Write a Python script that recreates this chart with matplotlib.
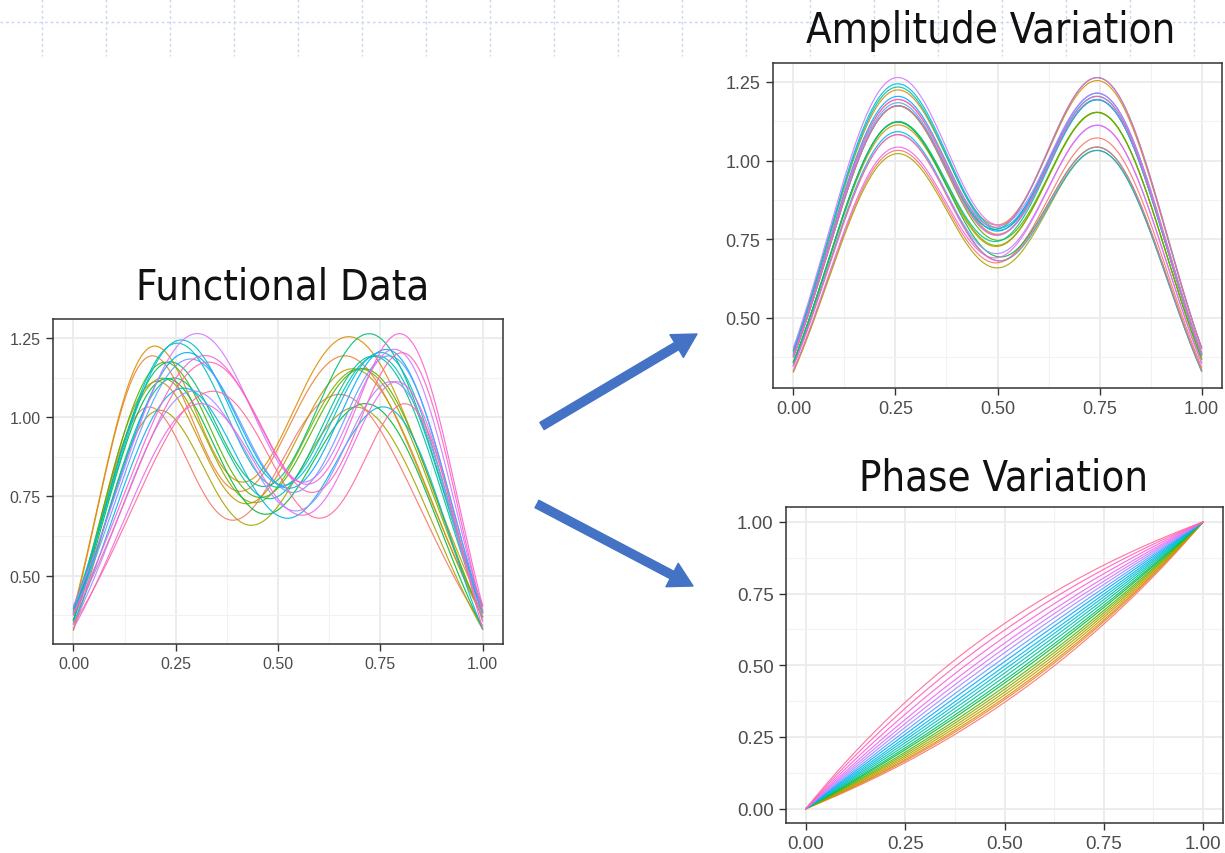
import numpy as np
import matplotlib
matplotlib.use("Agg")
import matplotlib.pyplot as plt
from matplotlib.lines import Line2D
from matplotlib.patches import FancyArrowPatch

# amplitudes of the left / right bump of each curve (colour order 1..21)
amp_left = [1.02, 1.18, 1.21, 1.10, 1.01, 1.11, 1.16, 1.11, 1.16, 1.11, 1.22,
            1.23, 1.08, 1.19, 1.17, 1.07, 1.25, 1.03, 1.18, 1.16, 1.07]
amp_right = [1.06, 1.18, 1.24, 1.14, 1.02, 1.14, 1.14, 1.03, 1.25, 1.18, 1.18,
             1.19, 1.02, 1.20, 1.18, 1.10, 1.20, 1.10, 1.25, 1.19, 1.03]
# time shift of each observed curve (negative = peaks earlier)
shift = [-0.88, -0.76, -0.68, -0.60, -0.52, -0.44, -0.36, -0.30, -0.22, -0.12, -0.02,
         0.08, 0.14, 0.22, 0.30, 0.37, 0.46, 0.53, 0.62, 0.70, 0.80]
# curvature of each estimated warping function (positive = below diagonal)
warp = [1.06, 0.98, 0.92, 0.84, 0.76, 0.68, 0.60, 0.50, 0.42, 0.32, 0.22,
        0.12, 0.02, -0.10, -0.22, -0.35, -0.48, -0.62, -0.80, -1.00, -1.20]

x_ticks = [0.0, 0.25, 0.50, 0.75, 1.00]
x_labels = ["0.00", "0.25", "0.50", "0.75", "1.00"]
f_yticks = [0.50, 0.75, 1.00, 1.25]
f_ylabels = ["0.50", "0.75", "1.00", "1.25"]
p_yticks = [0.0, 0.25, 0.50, 0.75, 1.00]
p_ylabels = ["0.00", "0.25", "0.50", "0.75", "1.00"]

W, H = 1225, 854


def hue_pal(n):
    # ggplot2 default hue palette: hcl(h, c=100, l=65)
    cols = []
    Xn, Yn, Zn = 0.95047, 1.0, 1.08883
    u0 = 4 * Xn / (Xn + 15 * Yn + 3 * Zn)
    v0 = 9 * Yn / (Xn + 15 * Yn + 3 * Zn)
    L, C = 65.0, 100.0
    for h in np.linspace(15, 375, n + 1)[:-1]:
        u = C * np.cos(np.radians(h))
        v = C * np.sin(np.radians(h))
        Y = ((L + 16) / 116) ** 3
        up = u / (13 * L) + u0
        vp = v / (13 * L) + v0
        X = Y * 9 * up / (4 * vp)
        Z = Y * (12 - 3 * up - 20 * vp) / (4 * vp)
        rgb = np.array([[3.2406, -1.5372, -0.4986],
                        [-0.9689, 1.8758, 0.0415],
                        [0.0557, -0.2040, 1.0570]]) @ np.array([X, Y, Z])
        rgb = np.clip(rgb, 0, 1)
        rgb = np.where(rgb <= 0.0031308, 12.92 * rgb, 1.055 * rgb ** (1 / 2.4) - 0.055)
        cols.append(tuple(np.clip(rgb, 0, 1)))
    return cols


def warp_fn(t, b):
    if abs(b) < 1e-6:
        return t
    return (np.exp(b * t) - 1) / (np.exp(b) - 1)


def bumps(s, a1, a2):
    tt = 6 * s - 3
    return a1 * np.exp(-(tt + 1.5) ** 2 / 2) + a2 * np.exp(-(tt - 1.5) ** 2 / 2)


def style_axes(ax, yticks, ylabels, ylim, minor_y, fs):
    ax.set_xlim(-0.05, 1.05)
    ax.set_ylim(*ylim)
    ax.set_xticks(x_ticks)
    ax.set_xticklabels(x_labels)
    ax.set_yticks(yticks)
    ax.set_yticklabels(ylabels)
    ax.set_xticks([0.125, 0.375, 0.625, 0.875], minor=True)
    ax.set_yticks(minor_y, minor=True)
    ax.grid(which="major", color="#EBEBEB", lw=1.3, zorder=0)
    ax.grid(which="minor", color="#F2F2F2", lw=0.8, zorder=0)
    ax.tick_params(which="minor", length=0)
    ax.tick_params(which="major", length=5, width=1, color="#333333",
                   labelcolor="#4D4D4D", labelsize=fs, pad=4)
    for lab in ax.get_xticklabels() + ax.get_yticklabels():
        lab.set_fontfamily("Liberation Sans")
    for sp in ax.spines.values():
        sp.set_color("#333333")
        sp.set_linewidth(1.1)
    ax.set_axisbelow(True)


def fig_rect(x0, y0, x1, y1):
    return [x0 / W, 1 - y1 / H, (x1 - x0) / W, (y1 - y0) / H]


cols = hue_pal(len(amp_left))
s = np.linspace(0, 1, 400)

fig = plt.figure(figsize=(W / 100, H / 100), dpi=100)

# slide background: faint dashed guide grid at the top
for k in range(19):
    xx = (42 + 64 * k) / W
    fig.add_artist(Line2D([xx, xx], [1, 1 - 57 / H], color="#CBD5F3", lw=1,
                          ls=(0, (2, 2)), zorder=0))
fig.add_artist(Line2D([0, 1], [1 - 23 / H, 1 - 23 / H], color="#CBD5F3", lw=1,
                      ls=(0, (2, 2)), zorder=0))

# functional data
ax1 = fig.add_axes(fig_rect(53, 320, 503, 645))
for i in range(len(amp_left)):
    ax1.plot(s, bumps(warp_fn(s, shift[i]), amp_left[i], amp_right[i]),
             color=cols[i], lw=0.85, alpha=0.9, zorder=2)
style_axes(ax1, f_yticks, f_ylabels, (0.2845, 1.31), [0.375, 0.625, 0.875, 1.125], 11.5)

# amplitude variation
ax2 = fig.add_axes(fig_rect(773, 64, 1222, 389))
for i in range(len(amp_left)):
    ax2.plot(s, bumps(s, amp_left[i], amp_right[i]), color=cols[i], lw=0.85,
             alpha=0.9, zorder=2)
style_axes(ax2, f_yticks, f_ylabels, (0.2776, 1.31), [0.375, 0.625, 0.875, 1.125], 13)

# phase variation
ax3 = fig.add_axes(fig_rect(786, 508, 1223, 824))
for i in range(len(warp)):
    ax3.plot(s, warp_fn(s, warp[i]), color=cols[i], lw=0.85, alpha=0.9, zorder=2)
style_axes(ax3, p_yticks, p_ylabels, (-0.05, 1.052), [0.125, 0.375, 0.625, 0.875], 13.5)

# panel titles
title_kw = dict(fontsize=30, fontfamily="DejaVu Sans", fontstretch="condensed",
                ha="center", va="baseline", color="#111111")
fig.text(283 / W, 1 - 299 / H, "Functional Data", **title_kw)
fig.text(991 / W, 1 - 43 / H, "Amplitude Variation", **title_kw)
fig.text(1004 / W, 1 - 491 / H, "Phase Variation", **title_kw)

# arrows
arrow_kw = dict(transform=fig.transFigure, color="#4472C4", mutation_scale=1,
                arrowstyle="simple,head_width=19,head_length=17,tail_width=6",
                shrinkA=0, shrinkB=0)
fig.add_artist(FancyArrowPatch((542 / W, 1 - 427 / H), (697 / W, 1 - 335 / H), **arrow_kw))
fig.add_artist(FancyArrowPatch((537 / W, 1 - 505 / H), (693 / W, 1 - 587 / H), **arrow_kw))

fig.savefig("out.png", dpi=100)
